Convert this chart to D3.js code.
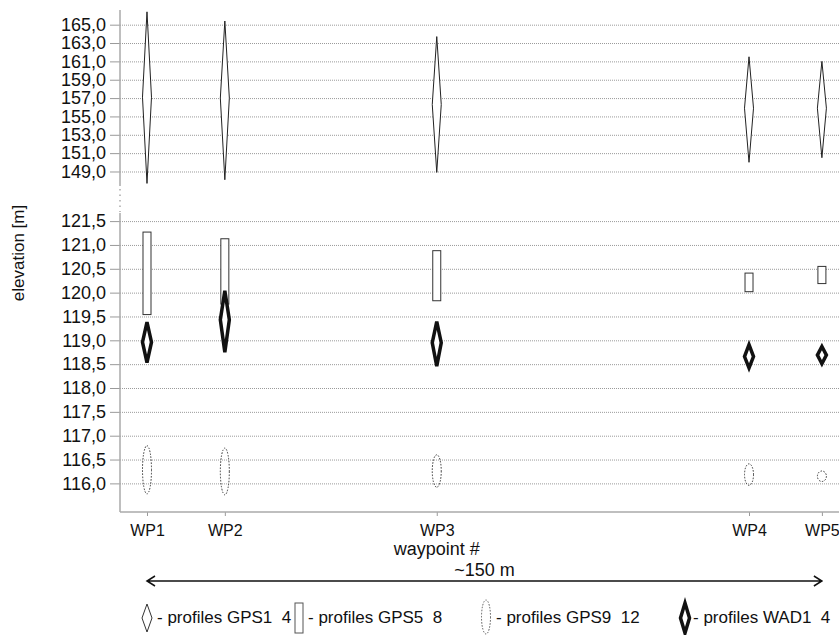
<!DOCTYPE html>
<html>
<head>
<meta charset="utf-8">
<script src="https://cdn.jsdelivr.net/npm/d3@7"></script>
<style>
  body { margin: 0; background: #fff; }
  svg text { font-family: "Liberation Sans", Arial, Helvetica, sans-serif; fill: #111; }
  .grid line { stroke: #9a9a9a; stroke-width: 1; stroke-dasharray: 1,1; }
  .grid path { display: none; }
  .ax path { display: none; }
  .ax line { stroke: #9a9a9a; stroke-width: 1; }
  .ax text { font-size: 18px; }
  .xax text { font-size: 16px; }
</style>
</head>
<body>
<div id="chart"></div>
<script>
const waypoints = ["WP1", "WP2", "WP3", "WP4", "WP5"];
const distance = [0, 17.3, 64.4, 133.8, 150];   // metres along the profile

const upperTicks = [165, 163, 161, 159, 157, 155, 153, 151, 149];
const lowerTicks = [121.5, 121, 120.5, 120, 119.5, 119, 118.5, 118, 117.5, 117, 116.5, 116];

// GPS1 (thin diamond)
const gps1Min = [147.7, 148.1, 148.9, 150.0, 150.5];
const gps1Max = [166.4, 165.4, 163.7, 161.5, 161.0];
const gps1Mid = [157.1, 157.0, 156.3, 155.9, 155.9];
// GPS5 (rectangle)
const gps5Min = [119.54, 119.76, 119.83, 120.02, 120.19];
const gps5Max = [121.27, 121.13, 120.88, 120.41, 120.55];
// GPS9 (dotted ellipse)
const gps9Min = [115.78, 115.76, 115.92, 115.96, 116.04];
const gps9Max = [116.79, 116.74, 116.60, 116.41, 116.26];
// WAD1 (thick diamond)
const wadMin = [118.53, 118.75, 118.46, 118.42, 118.51];
const wadMax = [119.38, 120.04, 119.39, 118.91, 118.87];
const wadMid = [118.96, 119.43, 118.95, 118.66, 118.69];

const legendLabels = ["- profiles GPS1  4", "- profiles GPS5  8", "- profiles GPS9  12", "- profiles WAD1  4"];

const width = 839;
const height = 635;
const left = 120;
const bottom = 512;

const svg = d3.select("#chart")
  .append("svg")
  .attr("width", width)
  .attr("height", height);

const x = d3.scaleLinear().domain([-6, 153.8]).range([left, width]);
const yUp = d3.scaleLinear().domain([147.2, 166.6]).range([188, 10]);
const yLo = d3.scaleLinear().domain([115.4, 121.67]).range([bottom, 213]);

const comma = d3.formatLocale({ decimal: ",", thousands: ".", grouping: [3], currency: ["", ""] }).format(".1f");

// gridlines
svg.append("g").attr("class", "grid")
  .attr("transform", `translate(${left},0)`)
  .call(d3.axisLeft(yUp).tickValues(upperTicks).tickSizeInner(-(width - left)).tickFormat(""));
svg.append("g").attr("class", "grid")
  .attr("transform", `translate(${left},0)`)
  .call(d3.axisLeft(yLo).tickValues(lowerTicks).tickSizeInner(-(width - left)).tickFormat(""));

// y axes
svg.append("g").attr("class", "ax")
  .attr("transform", `translate(${left},0)`)
  .call(d3.axisLeft(yUp).tickValues(upperTicks).tickSize(10).tickPadding(4).tickFormat(comma));
svg.append("g").attr("class", "ax")
  .attr("transform", `translate(${left},0)`)
  .call(d3.axisLeft(yLo).tickValues(lowerTicks).tickSize(10).tickPadding(4).tickFormat(comma));

// axis line with break
svg.append("line").attr("x1", left).attr("x2", left).attr("y1", 10).attr("y2", 186)
  .attr("stroke", "#aaa").attr("stroke-width", 1.5);
svg.append("line").attr("x1", left).attr("x2", left).attr("y1", 189).attr("y2", 212)
  .attr("stroke", "#aaa").attr("stroke-width", 1.5).attr("stroke-dasharray", "1.5,4");
svg.append("line").attr("x1", left).attr("x2", left).attr("y1", 213).attr("y2", bottom)
  .attr("stroke", "#aaa").attr("stroke-width", 1.5);

// x axis
svg.append("g").attr("class", "ax xax")
  .attr("transform", `translate(0,${bottom})`)
  .call(d3.axisBottom(x).tickValues(distance).tickSize(4).tickPadding(9)
    .tickFormat((d, i) => waypoints[i]));
svg.append("line").attr("x1", left).attr("x2", width).attr("y1", bottom).attr("y2", bottom)
  .attr("stroke", "#aaa").attr("stroke-width", 1.5);

const idx = d3.range(waypoints.length);

// GPS5 rectangles
svg.append("g").selectAll("rect")
  .data(idx).join("rect")
  .attr("x", i => x(distance[i]) - 4)
  .attr("width", 8)
  .attr("y", i => yLo(gps5Max[i]))
  .attr("height", i => yLo(gps5Min[i]) - yLo(gps5Max[i]))
  .attr("fill", "#fff").attr("stroke", "#333").attr("stroke-width", 1);

// GPS9 dotted ellipses
svg.append("g").selectAll("ellipse")
  .data(idx).join("ellipse")
  .attr("cx", i => x(distance[i]))
  .attr("cy", i => (yLo(gps9Min[i]) + yLo(gps9Max[i])) / 2)
  .attr("rx", 4.5)
  .attr("ry", i => (yLo(gps9Min[i]) - yLo(gps9Max[i])) / 2)
  .attr("fill", "none").attr("stroke", "#333").attr("stroke-width", 1)
  .attr("stroke-dasharray", "1.5,1.5");

function diamond(cx, top, mid, bot, hw) {
  return `M${cx},${top}L${cx + hw},${mid}L${cx},${bot}L${cx - hw},${mid}Z`;
}

// GPS1 thin diamonds
svg.append("g").selectAll("path")
  .data(idx).join("path")
  .attr("d", i => diamond(x(distance[i]), yUp(gps1Max[i]), yUp(gps1Mid[i]), yUp(gps1Min[i]), 4.5))
  .attr("fill", "#fff").attr("stroke", "#222").attr("stroke-width", 1);

// WAD1 thick diamonds
svg.append("g").selectAll("path")
  .data(idx).join("path")
  .attr("d", i => diamond(x(distance[i]), yLo(wadMax[i]), yLo(wadMid[i]), yLo(wadMin[i]), 4.5))
  .attr("fill", "#fff").attr("stroke", "#111").attr("stroke-width", 3.5)
  .attr("stroke-linejoin", "miter");

// axis titles
svg.append("text")
  .attr("transform", "translate(24,253) rotate(-90)")
  .attr("text-anchor", "middle")
  .style("font-size", "17px")
  .text("elevation [m]");
svg.append("text")
  .attr("x", x(distance[2])).attr("y", 555)
  .attr("text-anchor", "middle")
  .style("font-size", "18px")
  .text("waypoint #");

// distance arrow
const ay = 581;
const x0 = x(distance[0]), x1 = x(distance[4]);
svg.append("path")
  .attr("d", `M${x0},${ay}H${x1}M${x0 + 8},${ay - 5}L${x0},${ay}L${x0 + 8},${ay + 5}M${x1 - 8},${ay - 5}L${x1},${ay}L${x1 - 8},${ay + 5}`)
  .attr("fill", "none").attr("stroke", "#111").attr("stroke-width", 1.5);
svg.append("text")
  .attr("x", (x0 + x1) / 2).attr("y", 576)
  .attr("text-anchor", "middle")
  .style("font-size", "18px")
  .text("~150 m");

// legend
const lg = svg.append("g");
const symX = [147, 299, 486, 685];
const txtX = [157, 308, 496, 693];
const ly = 618;
lg.append("path").attr("d", diamond(symX[0], 604, 618, 632, 5)).attr("fill", "#fff").attr("stroke", "#333").attr("stroke-width", 1);
lg.append("rect").attr("x", symX[1] - 4).attr("y", 603).attr("width", 8).attr("height", 30)
  .attr("fill", "#fff").attr("stroke", "#555").attr("stroke-width", 1);
lg.append("ellipse").attr("cx", symX[2]).attr("cy", 617).attr("rx", 4.5).attr("ry", 17)
  .attr("fill", "none").attr("stroke", "#555").attr("stroke-width", 1).attr("stroke-dasharray", "1.5,1.5");
lg.append("path").attr("d", diamond(symX[3], 603, 618, 633, 4.5)).attr("fill", "#fff").attr("stroke", "#111").attr("stroke-width", 3.5);
lg.selectAll("text")
  .data(legendLabels).join("text")
  .attr("x", (d, i) => txtX[i]).attr("y", ly + 5)
  .style("font-size", "17px").style("white-space", "pre")
  .text(d => d);
</script>
</body>
</html>
